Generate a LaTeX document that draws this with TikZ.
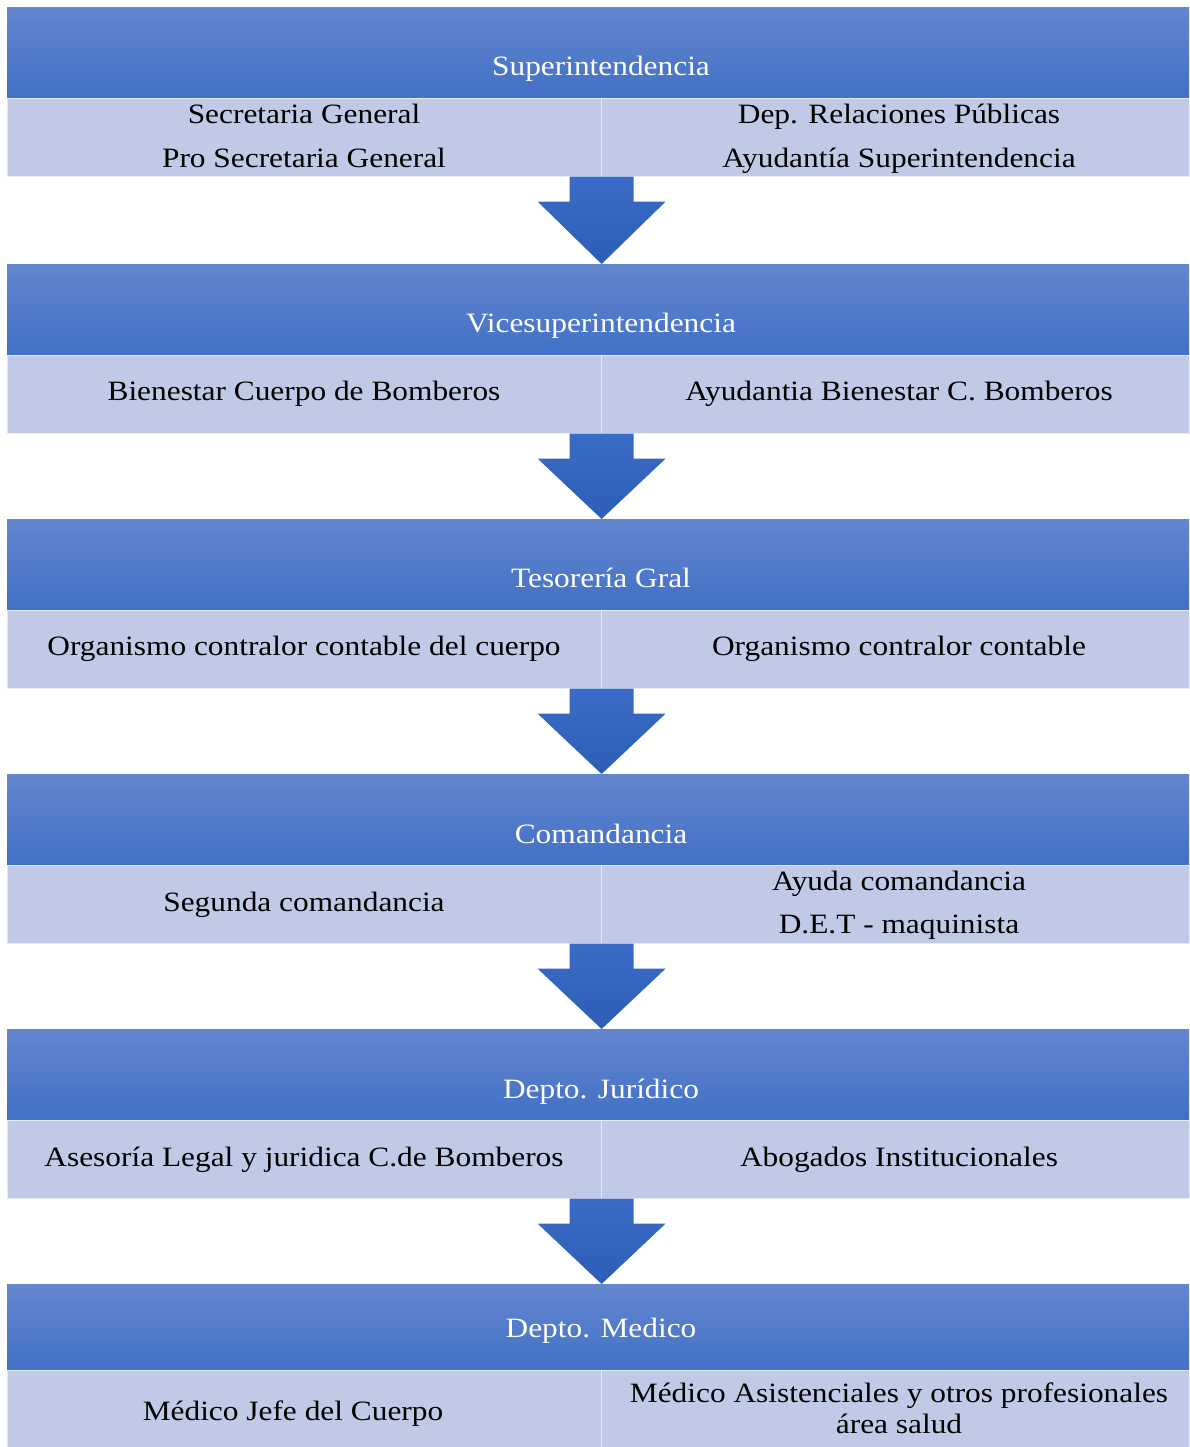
\documentclass[tikz,border=0pt]{standalone}
\usepackage{fontspec}
\setmainfont{Liberation Serif}[FakeStretch=1.12]
\usetikzlibrary{calc}
\definecolor{hdtop}{HTML}{6386CE}
\definecolor{hdbot}{HTML}{4170C6}
\definecolor{subfill}{HTML}{C0CAE6}
\definecolor{arrtop}{HTML}{3A6BC6}
\definecolor{arrbot}{HTML}{2D5DB6}
\begin{document}
\begin{tikzpicture}[x=1pt,y=-1pt,
  header/.style={rectangle, anchor=north west, inner sep=0pt, minimum width=1182pt,
    minimum height=91pt, top color=hdtop, bottom color=hdbot, draw=none},
  subleft/.style={rectangle, anchor=north west, inner sep=0pt, minimum width=594pt,
    minimum height=78pt, fill=subfill, draw=white!60!subfill, line width=0.6pt},
  subright/.style={rectangle, anchor=north west, inner sep=0pt, minimum width=588pt,
    minimum height=78pt, fill=subfill, draw=white!60!subfill, line width=0.6pt},
  htext/.style={anchor=base, inner sep=0pt, text=white, font=\fontsize{28}{30}\selectfont},
  btext/.style={anchor=base, inner sep=0pt, text=black, font=\fontsize{28}{30}\selectfont},
  flow/.style={top color=arrtop, bottom color=arrbot, draw=none}]
\useasboundingbox (0,0) rectangle (1189,1447);
\fill[white] (0,0) rectangle (1189,1447);

% level blocks: header band plus two sub-cells
\foreach \i/\top in {1/7,2/264,3/519,4/774,5/1029,6/1284}{
  \node[header] (h\i) at (7,\top) {};
  \node[subleft] (l\i) at (7,\top+91) {};
  \node[subright] (r\i) at (601,\top+91) {};
}
\node[subleft,minimum height=77pt] (l6b) at (7,1370) {};
\node[subright,minimum height=77pt] (r6b) at (601,1370) {};

% downward arrows between consecutive levels
\foreach \a/\b in {1/2,2/3,3/4,4/5,5/6}{
  \coordinate (s\a) at (l\a.south east);
  \coordinate (t\a) at (l\a.south east |- h\b.north);
  \path[flow] ($(s\a)+(-32,0)$) -- ($(s\a)+(32,0)$) -- ($(s\a)+(32,25)$)
    -- ($(s\a)+(64,25)$) -- (t\a) -- ($(s\a)+(-64,25)$) -- ($(s\a)+(-32,25)$) -- cycle;
}

% header titles
\node[htext] (ht1) at (601,76) {Superintendencia};
\node[htext] (ht2) at (601,332) {Vicesuperintendencia};
\node[htext] (ht3) at (601,587) {Tesorería Gral};
\node[htext] (ht4) at (601,843) {Comandancia};
\node[htext] (ht5) at (601,1098) {Depto. Jurídico};
\node[htext] (ht6) at (601,1337) {Depto. Medico};

% cell texts
\node[btext] (a1) at (304,124) {Secretaria General};
\node[btext] (a2) at (304,168) {Pro Secretaria General};
\node[btext] (b1) at (899,124) {Dep. Relaciones Públicas};
\node[btext] (b2) at (899,168) {Ayudantía Superintendencia};

\node[btext] (c1) at (304,400) {Bienestar Cuerpo de Bomberos};
\node[btext] (d1) at (899,400) {Ayudantia Bienestar C. Bomberos};

\node[btext] (e1) at (304,655) {Organismo contralor contable del cuerpo};
\node[btext] (f1) at (899,655) {Organismo contralor contable};

\node[btext] (g1) at (304,911) {Segunda comandancia};
\node[btext] (k1) at (899,890) {Ayuda comandancia};
\node[btext] (k2) at (899,933) {D.E.T - maquinista};

\node[btext] (m1) at (304,1166) {Asesoría Legal y juridica C.de Bomberos};
\node[btext] (n1) at (899,1166) {Abogados Institucionales};

\node[btext] (p1) at (293,1420) {Médico Jefe del Cuerpo};
\node[btext] (q1) at (899,1402) {Médico Asistenciales y otros profesionales};
\node[btext] (q2) at (899,1433) {área salud};
\end{tikzpicture}
\end{document}
